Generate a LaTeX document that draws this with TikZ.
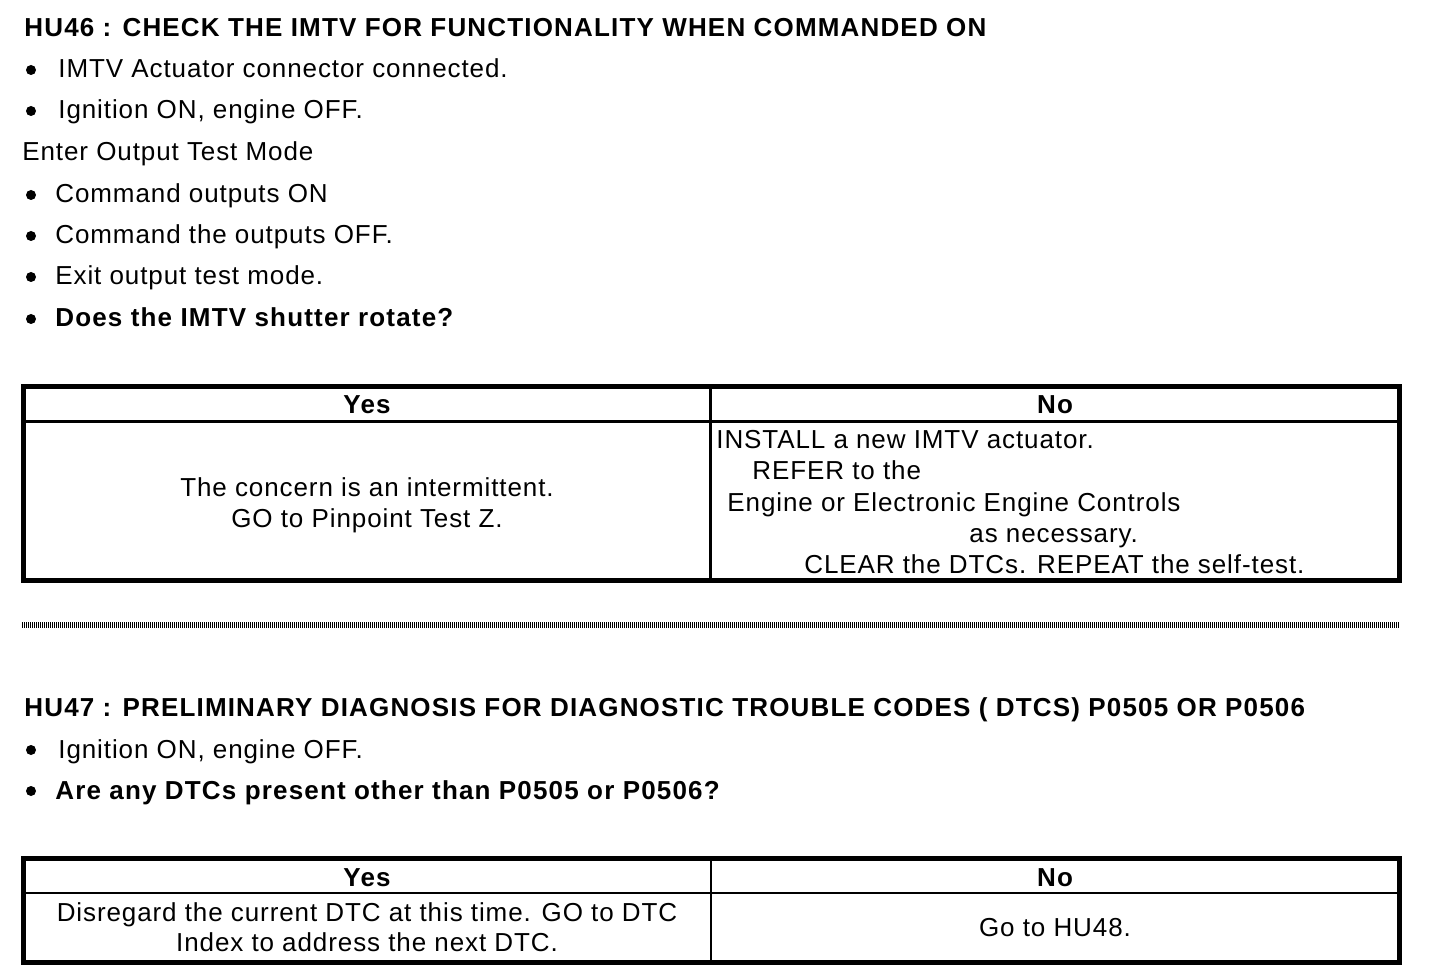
\documentclass[tikz,border=0pt]{standalone}
\usepackage{fontspec}
\setmainfont{Liberation Sans}[LetterSpace=3.5,BoldFeatures={LetterSpace=4.5}]

\begin{document}
\begin{tikzpicture}[x=0.5pt,y=-0.5pt,
	every node/.style={anchor=base west,inner sep=0pt,font=\fontsize{13}{15}\selectfont},
	hd/.style={font=\fontsize{13}{15}\selectfont\bfseries},
	mid/.style={anchor=base},
	dot/.style={circle,fill,inner sep=0pt,minimum size=5pt,anchor=center},
	frame/.style={line width=2.5pt},
	rule/.style={line width=1.5pt}]
	\useasboundingbox (0,0) rectangle (1440,978);
	% HU46
	\node[hd] (h46) at (24,37) {HU46 : CHECK THE IMTV FOR FUNCTIONALITY WHEN COMMANDED ON};
	\node[dot] (d1) at (31,70) {};
	\node (t1) at (58,78) {IMTV Actuator connector connected.};
	\node[dot] (d2) at (31,111) {};
	\node (t2) at (58,119) {Ignition ON, engine OFF.};
	\node (t3) at (22,161) {Enter Output Test Mode};
	\node[dot] (d4) at (31,195) {};
	\node (t4) at (55,203) {Command outputs ON};
	\node[dot] (d5) at (31,236) {};
	\node (t5) at (55,244) {Command the outputs OFF.};
	\node[dot] (d6) at (31,277) {};
	\node (t6) at (55,285) {Exit output test mode.};
	\node[dot] (d7) at (31,319) {};
	\node[hd] (t7) at (55,327) {Does the IMTV shutter rotate?};
	% table 1
	\draw[frame] (23.5,386.5) rectangle (1399.5,580);
	\draw[rule] (23.5,421.5) -- (1399.5,421.5);
	\draw[rule] (710.5,386.5) -- (710.5,580);
	\node[hd,mid] (y1) at (367,414) {Yes};
	\node[hd,mid] (n1) at (1055,414) {No};
	\node[mid] (y1a) at (367,496) {The concern is an intermittent.};
	\node[mid] (y1b) at (367,527) {GO to Pinpoint Test Z.};
	\node (n1a) at (716,449) {INSTALL a new IMTV actuator.};
	\node (n1b) at (752,480) {REFER to the};
	\node (n1c) at (727,511) {Engine or Electronic Engine Controls};
	\node (n1d) at (969,542) {as necessary.};
	\node (n1e) at (804,573) {CLEAR the DTCs. REPEAT the self-test.};
	% separator
	\draw[line width=3pt,dash pattern=on 0.5pt off 0.5pt] (22,625) -- (1400,625);
	% HU47
	\node[hd] (h47) at (24,716) {HU47 : PRELIMINARY DIAGNOSIS FOR DIAGNOSTIC TROUBLE CODES ( DTCS) P0505 OR P0506};
	\node[dot] (d8) at (31,750) {};
	\node (t8) at (58,758) {Ignition ON, engine OFF.};
	\node[dot] (d9) at (31,791) {};
	\node[hd] (t9) at (55,799) {Are any DTCs present other than P0505 or P0506?};
	% table 2
	\draw[frame] (23.5,858) rectangle (1399.5,962.5);
	\draw[line width=1pt] (23.5,892.5) -- (1399.5,892.5);
	\draw[line width=1pt] (710.5,858) -- (710.5,962.5);
	\node[hd,mid] (y2) at (367,886) {Yes};
	\node[hd,mid] (n2) at (1055,886) {No};
	\node[mid] (y2a) at (367,921) {Disregard the current DTC at this time. GO to DTC};
	\node[mid] (y2b) at (367,951) {Index to address the next DTC.};
	\node[mid] (n2a) at (1055,936) {Go to HU48.};
\end{tikzpicture}
\end{document}
